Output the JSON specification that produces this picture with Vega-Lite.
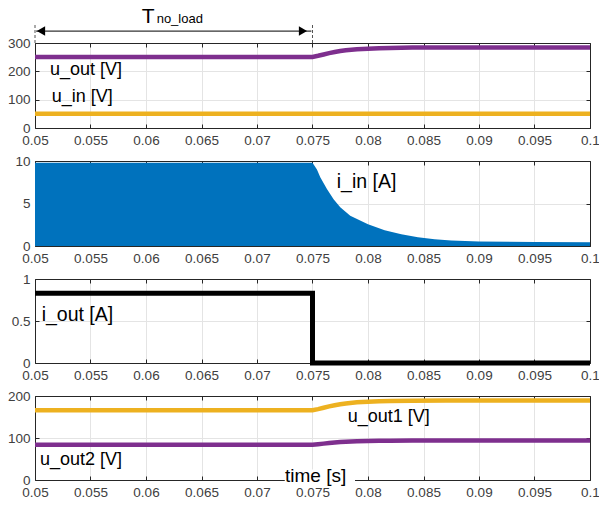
{
  "$schema": "https://vega.github.io/schema/vega-lite/v6.json",
  "background": "white",
  "padding": {"left": 7, "right": 0, "top": 5, "bottom": 5},
  "spacing": 7,
  "config": {
    "view": {"stroke": null},
    "axis": {
      "labelFont": "Liberation Sans",
      "labelFontSize": 13.5,
      "labelColor": "#404040",
      "domainColor": "#262626",
      "tickColor": "#262626",
      "tickSize": -4,
      "labelPadding": 9,
      "gridColor": "#e4e4e4",
      "labelFlush": false,
      "labelOverlap": false
    },
    "text": {"font": "Liberation Sans", "color": "#000000"}
  },
  "datasets": {
    "v1": [
      {"x": 0.05, "v": 251, "s": "u_out"}, {"x": 0.075, "v": 251, "s": "u_out"}, {"x": 0.0755, "v": 255, "s": "u_out"},
      {"x": 0.076, "v": 259.6, "s": "u_out"}, {"x": 0.0765, "v": 264.2, "s": "u_out"}, {"x": 0.077, "v": 268.2, "s": "u_out"},
      {"x": 0.0775, "v": 271.5, "s": "u_out"}, {"x": 0.078, "v": 274.1, "s": "u_out"}, {"x": 0.079, "v": 278, "s": "u_out"},
      {"x": 0.08, "v": 280, "s": "u_out"}, {"x": 0.081, "v": 281.7, "s": "u_out"}, {"x": 0.082, "v": 282.7, "s": "u_out"},
      {"x": 0.084, "v": 283.7, "s": "u_out"}, {"x": 0.087, "v": 284, "s": "u_out"}, {"x": 0.1, "v": 284, "s": "u_out"},
      {"x": 0.05, "v": 50, "s": "u_in"}, {"x": 0.1, "v": 50, "s": "u_in"}
    ],
    "lab1": [
      {"x": 0.05135, "y": 205, "t": "u_out [V]"},
      {"x": 0.0515, "y": 109, "t": "u_in [V]"}
    ],
    "annT": [{"x": 0.05961, "y": 370.6, "t": "T"}],
    "annSub": [{"x": 0.06096, "y": 370.6, "t": "no_load"}],
    "annArrow": [{"x": 0.0501, "x2": 0.0749, "y": 342}],
    "annHead": [{"x": 0.05054, "y": 342, "s": "triangle-left"}, {"x": 0.07414, "y": 342, "s": "triangle-right"}],
    "annDash": [{"x": 0.05, "y": 300, "y2": 363.5}, {"x": 0.075, "y": 300, "y2": 370.6}],
    "iin": [
      {"x": 0.05, "v": 9.8}, {"x": 0.075, "v": 9.8}, {"x": 0.0754, "v": 9.0}, {"x": 0.0757, "v": 8.1},
      {"x": 0.0763, "v": 6.7}, {"x": 0.0769, "v": 5.5}, {"x": 0.0775, "v": 4.55}, {"x": 0.0784, "v": 3.57},
      {"x": 0.08, "v": 2.55}, {"x": 0.0815, "v": 1.85}, {"x": 0.083, "v": 1.38}, {"x": 0.0845, "v": 1.02},
      {"x": 0.086, "v": 0.8}, {"x": 0.0875, "v": 0.65}, {"x": 0.09, "v": 0.52}, {"x": 0.095, "v": 0.46}, {"x": 0.1, "v": 0.45}
    ],
    "lab2": [{"x": 0.07718, "y": 7.56, "t": "i_in [A]"}],
    "iout": [
      {"i": 1, "x": 0.05, "v": 0.83}, {"i": 2, "x": 0.075, "v": 0.83}, {"i": 3, "x": 0.075, "v": 0}, {"i": 4, "x": 0.1, "v": 0}
    ],
    "lab3": [{"x": 0.0506, "y": 0.571, "t": "i_out [A]"}],
    "v4": [
      {"x": 0.05, "v": 166, "s": "u_out1"}, {"x": 0.075, "v": 166, "s": "u_out1"}, {"x": 0.0755, "v": 168.8, "s": "u_out1"},
      {"x": 0.076, "v": 172, "s": "u_out1"}, {"x": 0.0765, "v": 175.2, "s": "u_out1"}, {"x": 0.077, "v": 178, "s": "u_out1"},
      {"x": 0.0775, "v": 180.3, "s": "u_out1"}, {"x": 0.078, "v": 182.1, "s": "u_out1"}, {"x": 0.079, "v": 184.9, "s": "u_out1"},
      {"x": 0.08, "v": 186.2, "s": "u_out1"}, {"x": 0.081, "v": 187.4, "s": "u_out1"}, {"x": 0.082, "v": 188.1, "s": "u_out1"},
      {"x": 0.084, "v": 188.8, "s": "u_out1"}, {"x": 0.087, "v": 189, "s": "u_out1"}, {"x": 0.1, "v": 189, "s": "u_out1"},
      {"x": 0.05, "v": 84, "s": "u_out2"}, {"x": 0.075, "v": 84, "s": "u_out2"}, {"x": 0.0755, "v": 85.2, "s": "u_out2"},
      {"x": 0.076, "v": 86.6, "s": "u_out2"}, {"x": 0.0765, "v": 88, "s": "u_out2"}, {"x": 0.077, "v": 89.2, "s": "u_out2"},
      {"x": 0.0775, "v": 90.2, "s": "u_out2"}, {"x": 0.078, "v": 91, "s": "u_out2"}, {"x": 0.079, "v": 92.2, "s": "u_out2"},
      {"x": 0.08, "v": 92.8, "s": "u_out2"}, {"x": 0.081, "v": 93.3, "s": "u_out2"}, {"x": 0.082, "v": 93.6, "s": "u_out2"},
      {"x": 0.084, "v": 93.9, "s": "u_out2"}, {"x": 0.087, "v": 94, "s": "u_out2"}, {"x": 0.1, "v": 94, "s": "u_out2"}
    ],
    "lab4": [
      {"x": 0.07817, "y": 149.3, "t": "u_out1 [V]"},
      {"x": 0.05045, "y": 47.6, "t": "u_out2 [V]"}
    ],
    "timeBox": [{"x": 0.0725, "x2": 0.07883, "y": -8, "y2": 25}],
    "timeLab": [{"x": 0.07252, "y": 9.5, "t": "time [s]"}]
  },
  "vconcat": [
    {
      "width": 555, "height": 85,
      "layer": [
        {
          "data": {"name": "v1"},
          "mark": {"type": "line", "strokeWidth": 4.5, "clip": false},
          "encoding": {
            "x": {"field": "x", "type": "quantitative", "title": null,
                  "scale": {"domain": [0.05, 0.1], "nice": false, "zero": false},
                  "axis": {"orient": "bottom", "values": [0.05, 0.055, 0.06, 0.065, 0.07, 0.075, 0.08, 0.085, 0.09, 0.095, 0.1], "format": "~g", "grid": true}},
            "y": {"field": "v", "type": "quantitative", "title": null,
                  "scale": {"domain": [0, 300], "nice": false},
                  "axis": {"orient": "left", "values": [0, 100, 200, 300], "format": "~r", "grid": true}},
            "color": {"field": "s", "type": "nominal", "legend": null,
                      "scale": {"domain": ["u_out", "u_in", "u_out1", "u_out2"], "range": ["#7E2F8E", "#EDB120", "#EDB120", "#7E2F8E"]}}
          }
        },
        {
          "data": {"name": "lab1"},
          "mark": {"type": "text", "align": "left", "baseline": "middle", "fontSize": 18},
          "encoding": {
            "x": {"field": "x", "type": "quantitative", "title": null,
                  "axis": {"orient": "top", "labels": false, "grid": false, "values": [0.05, 0.055, 0.06, 0.065, 0.07, 0.075, 0.08, 0.085, 0.09, 0.095, 0.1]}},
            "y": {"field": "y", "type": "quantitative", "title": null,
                  "axis": {"orient": "right", "labels": false, "grid": false, "values": [0, 100, 200, 300]}},
            "text": {"field": "t"}
          }
        },
        {
          "data": {"name": "annDash"},
          "mark": {"type": "rule", "strokeDash": [3, 2], "color": "#555555", "strokeWidth": 1},
          "encoding": {
            "x": {"field": "x", "type": "quantitative", "axis": null},
            "y": {"field": "y", "type": "quantitative", "axis": null},
            "y2": {"field": "y2"}
          }
        },
        {
          "data": {"name": "annArrow"},
          "mark": {"type": "rule", "color": "#000000", "strokeWidth": 1},
          "encoding": {
            "x": {"field": "x", "type": "quantitative", "axis": null},
            "x2": {"field": "x2"},
            "y": {"field": "y", "type": "quantitative", "axis": null}
          }
        },
        {
          "data": {"name": "annHead"},
          "mark": {"type": "point", "filled": true, "color": "#000000", "size": 90, "opacity": 1},
          "encoding": {
            "x": {"field": "x", "type": "quantitative", "axis": null},
            "y": {"field": "y", "type": "quantitative", "axis": null},
            "shape": {"field": "s", "type": "nominal", "scale": null, "legend": null}
          }
        },
        {
          "data": {"name": "annT"},
          "mark": {"type": "text", "align": "left", "baseline": "alphabetic", "fontSize": 21},
          "encoding": {
            "x": {"field": "x", "type": "quantitative", "axis": null},
            "y": {"field": "y", "type": "quantitative", "axis": null},
            "text": {"field": "t"}
          }
        },
        {
          "data": {"name": "annSub"},
          "mark": {"type": "text", "align": "left", "baseline": "alphabetic", "fontSize": 13},
          "encoding": {
            "x": {"field": "x", "type": "quantitative", "axis": null},
            "y": {"field": "y", "type": "quantitative", "axis": null},
            "text": {"field": "t"}
          }
        }
      ]
    },
    {
      "width": 555, "height": 85,
      "layer": [
        {
          "data": {"name": "iin"},
          "mark": {"type": "area", "color": "#0072BD", "opacity": 1, "clip": false},
          "encoding": {
            "x": {"field": "x", "type": "quantitative", "title": null,
                  "scale": {"domain": [0.05, 0.1], "nice": false, "zero": false},
                  "axis": {"orient": "bottom", "values": [0.05, 0.055, 0.06, 0.065, 0.07, 0.075, 0.08, 0.085, 0.09, 0.095, 0.1], "format": "~g", "grid": true}},
            "y": {"field": "v", "type": "quantitative", "title": null,
                  "scale": {"domain": [0, 10], "nice": false},
                  "axis": {"orient": "left", "values": [0, 5, 10], "format": "~r", "grid": true}},
            "y2": {"datum": 0}
          }
        },
        {
          "data": {"name": "lab2"},
          "mark": {"type": "text", "align": "left", "baseline": "middle", "fontSize": 19.5},
          "encoding": {
            "x": {"field": "x", "type": "quantitative", "title": null,
                  "axis": {"orient": "top", "labels": false, "grid": false, "values": [0.05, 0.055, 0.06, 0.065, 0.07, 0.075, 0.08, 0.085, 0.09, 0.095, 0.1]}},
            "y": {"field": "y", "type": "quantitative", "title": null,
                  "axis": {"orient": "right", "labels": false, "grid": false, "values": [0, 5, 10]}},
            "text": {"field": "t"}
          }
        }
      ]
    },
    {
      "width": 555, "height": 84,
      "layer": [
        {
          "data": {"name": "iout"},
          "mark": {"type": "line", "color": "#000000", "strokeWidth": 5, "clip": false, "strokeJoin": "miter"},
          "encoding": {
            "x": {"field": "x", "type": "quantitative", "title": null,
                  "scale": {"domain": [0.05, 0.1], "nice": false, "zero": false},
                  "axis": {"orient": "bottom", "values": [0.05, 0.055, 0.06, 0.065, 0.07, 0.075, 0.08, 0.085, 0.09, 0.095, 0.1], "format": "~g", "grid": true}},
            "y": {"field": "v", "type": "quantitative", "title": null,
                  "scale": {"domain": [0, 1], "nice": false},
                  "axis": {"orient": "left", "values": [0, 0.5, 1], "format": "~r", "grid": true}},
            "order": {"field": "i"}
          }
        },
        {
          "data": {"name": "lab3"},
          "mark": {"type": "text", "align": "left", "baseline": "middle", "fontSize": 19.5},
          "encoding": {
            "x": {"field": "x", "type": "quantitative", "title": null,
                  "axis": {"orient": "top", "labels": false, "grid": false, "values": [0.05, 0.055, 0.06, 0.065, 0.07, 0.075, 0.08, 0.085, 0.09, 0.095, 0.1]}},
            "y": {"field": "y", "type": "quantitative", "title": null,
                  "axis": {"orient": "right", "labels": false, "grid": false, "values": [0, 0.5, 1]}},
            "text": {"field": "t"}
          }
        }
      ]
    },
    {
      "width": 555, "height": 84,
      "layer": [
        {
          "data": {"name": "v4"},
          "mark": {"type": "line", "strokeWidth": 4.5, "clip": false},
          "encoding": {
            "x": {"field": "x", "type": "quantitative", "title": null,
                  "scale": {"domain": [0.05, 0.1], "nice": false, "zero": false},
                  "axis": {"orient": "bottom", "values": [0.05, 0.055, 0.06, 0.065, 0.07, 0.075, 0.08, 0.085, 0.09, 0.095, 0.1], "format": "~g", "grid": true}},
            "y": {"field": "v", "type": "quantitative", "title": null,
                  "scale": {"domain": [0, 200], "nice": false},
                  "axis": {"orient": "left", "values": [0, 100, 200], "format": "~r", "grid": true}},
            "color": {"field": "s", "type": "nominal", "legend": null,
                      "scale": {"domain": ["u_out", "u_in", "u_out1", "u_out2"], "range": ["#7E2F8E", "#EDB120", "#EDB120", "#7E2F8E"]}}
          }
        },
        {
          "data": {"name": "lab4"},
          "mark": {"type": "text", "align": "left", "baseline": "middle", "fontSize": 18},
          "encoding": {
            "x": {"field": "x", "type": "quantitative", "title": null,
                  "axis": {"orient": "top", "labels": false, "grid": false, "values": [0.05, 0.055, 0.06, 0.065, 0.07, 0.075, 0.08, 0.085, 0.09, 0.095, 0.1]}},
            "y": {"field": "y", "type": "quantitative", "title": null,
                  "axis": {"orient": "right", "labels": false, "grid": false, "values": [0, 100, 200]}},
            "text": {"field": "t"}
          }
        },
        {
          "data": {"name": "timeBox"},
          "mark": {"type": "rect", "color": "#ffffff", "opacity": 1},
          "encoding": {
            "x": {"field": "x", "type": "quantitative", "axis": null},
            "x2": {"field": "x2"},
            "y": {"field": "y", "type": "quantitative", "axis": null},
            "y2": {"field": "y2"}
          }
        },
        {
          "data": {"name": "timeLab"},
          "mark": {"type": "text", "align": "left", "baseline": "middle", "fontSize": 19},
          "encoding": {
            "x": {"field": "x", "type": "quantitative", "axis": null},
            "y": {"field": "y", "type": "quantitative", "axis": null},
            "text": {"field": "t"}
          }
        }
      ]
    }
  ]
}
